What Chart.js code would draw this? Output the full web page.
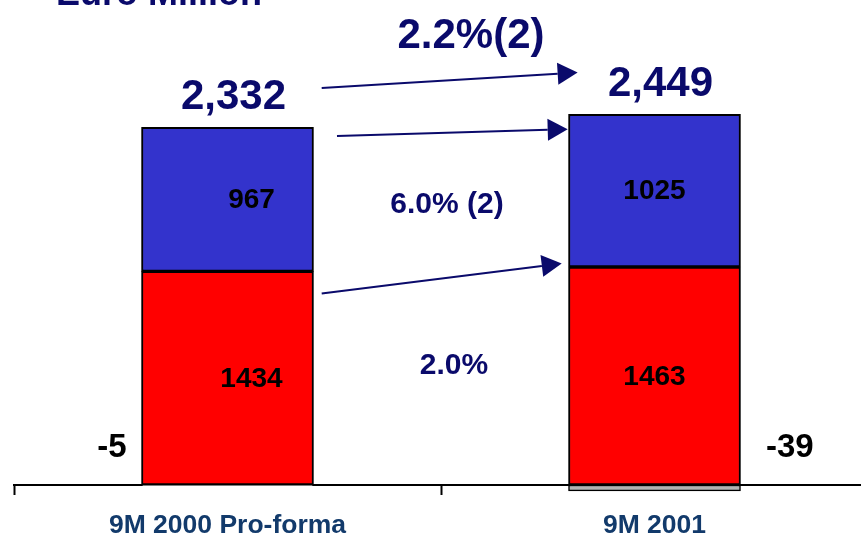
<!DOCTYPE html>
<html>
<head>
<meta charset="utf-8">
<title>Euro Million</title>
<script src="https://cdn.jsdelivr.net/npm/chart.js@4.4.1/dist/chart.umd.min.js"></script>
<style>
  html, body { margin: 0; padding: 0; background: #fff; }
</style>
</head>
<body>
<canvas id="chart" width="861" height="540"></canvas>
<script>
const PERIODS = ['9M 2000 Pro-forma', '9M 2001'];
const PERIOD_POS = [0, 1];
const RED_VALUES = [1434, 1463];
const BLUE_VALUES = [967, 1025];
const OTHER_VALUES = [-5, -39];
const TOTAL_LABELS = ['2,332', '2,449'];
const GROWTH_LABELS = ['2.2%(2)', '6.0% (2)', '2.0%'];

const NAVY = '#0a0a6b';
const FONT = '"Liberation Sans", Arial, sans-serif';

// growth arrows and notes, placed in axis units (x = period, y = euro million)
const ARROWS = [
  { from: [0.2206, 2665], to: [0.820, 2768] },
  { from: [0.2564, 2343], to: [0.7967, 2388] },
  { from: [0.2206, 1286], to: [0.7827, 1487] }
];
const GROWTH_POS = [
  { x: 0.5703, y: 3011, size: 42 },
  { x: 0.514, y: 1878, size: 30 },
  { x: 0.5305, y: 798, size: 30 }
];
const OTHER_POS = [
  { x: -0.2705, y: 248 },
  { x: 1.317, y: 248 }
];
const INNER_SHIFT = [24, 0];

function points(values) {
  return PERIOD_POS.map((x, i) => ({ x: x, y: values[i] }));
}

const annotations = {
  id: 'annotations',
  afterDraw(chart) {
    const ctx = chart.ctx;
    const xs = chart.scales.x;
    const ys = chart.scales.y;
    ctx.save();

    // title, mostly above the top edge
    ctx.fillStyle = NAVY;
    ctx.font = 'bold 36px ' + FONT;
    ctx.textAlign = 'left';
    ctx.textBaseline = 'alphabetic';
    ctx.fillText('Euro Million', 56, 5);
    ctx.textAlign = 'center';
    ctx.textBaseline = 'middle';

    // segment values inside the red and blue bars
    ctx.fillStyle = '#000';
    ctx.font = 'bold 28px ' + FONT;
    [0, 1].forEach(d => {
      const meta = chart.getDatasetMeta(d);
      meta.data.forEach((bar, i) => {
        const v = chart.data.datasets[d].data[i].y;
        ctx.fillText(String(v), bar.x + INNER_SHIFT[i], (bar.y + bar.base) / 2 + 1);
      });
    });

    // negative remainder
    ctx.font = 'bold 33px ' + FONT;
    OTHER_VALUES.forEach((v, i) => {
      ctx.fillText(String(v), xs.getPixelForValue(OTHER_POS[i].x), ys.getPixelForValue(OTHER_POS[i].y));
    });

    // totals above each stack
    ctx.fillStyle = NAVY;
    ctx.font = 'bold 42px ' + FONT;
    chart.getDatasetMeta(1).data.forEach((bar, i) => {
      ctx.fillText(TOTAL_LABELS[i], bar.x + 6, bar.y - 30);
    });

    // growth notes
    GROWTH_LABELS.forEach((t, i) => {
      const p = GROWTH_POS[i];
      ctx.font = 'bold ' + p.size + 'px ' + FONT;
      ctx.fillText(t, xs.getPixelForValue(p.x), ys.getPixelForValue(p.y));
    });

    // arrows
    ctx.strokeStyle = NAVY;
    ctx.lineWidth = 2;
    ARROWS.forEach(a => {
      const x1 = xs.getPixelForValue(a.from[0]), y1 = ys.getPixelForValue(a.from[1]);
      const x2 = xs.getPixelForValue(a.to[0]), y2 = ys.getPixelForValue(a.to[1]);
      const ang = Math.atan2(y2 - y1, x2 - x1);
      const len = 20, half = 11;
      const bx = x2 - len * Math.cos(ang), by = y2 - len * Math.sin(ang);
      ctx.beginPath();
      ctx.moveTo(x1, y1);
      ctx.lineTo(bx, by);
      ctx.stroke();
      ctx.beginPath();
      ctx.moveTo(x2, y2);
      ctx.lineTo(bx + half * Math.sin(ang), by - half * Math.cos(ang));
      ctx.lineTo(bx - half * Math.sin(ang), by + half * Math.cos(ang));
      ctx.closePath();
      ctx.fill();
    });
    ctx.restore();
  }
};

new Chart(document.getElementById('chart'), {
  type: 'bar',
  data: {
    datasets: [
      { data: points(RED_VALUES), backgroundColor: '#ff0000' },
      { data: points(BLUE_VALUES), backgroundColor: '#3333cc' },
      { data: points(OTHER_VALUES), backgroundColor: '#b2b2b2', borderWidth: 1.5 }
    ]
  },
  options: {
    responsive: false,
    animation: false,
    clip: false,
    datasets: {
      bar: { barThickness: 172, borderColor: '#000', borderWidth: 2, borderSkipped: false }
    },
    layout: { padding: { left: 14, right: 0, top: 38, bottom: -17 } },
    plugins: { legend: { display: false }, tooltip: { enabled: false } },
    scales: {
      x: {
        type: 'linear',
        stacked: true,
        offset: false,
        bounds: 'data',
        min: -0.5,
        max: 1.4836,
        afterBuildTicks: axis => {
          axis.ticks = [-0.5, 0, 0.5, 1].map(v => ({ value: v }));
        },
        ticks: {
          autoSkip: false,
          maxRotation: 0,
          padding: 7,
          color: '#123a6b',
          font: { family: FONT, size: 26.5, weight: 'bold', lineHeight: '48px' },
          callback: v => {
            const i = PERIOD_POS.indexOf(v);
            return i >= 0 ? PERIODS[i] : '';
          }
        },
        grid: {
          offset: false,
          drawOnChartArea: false,
          tickLength: 10,
          tickWidth: 2,
          tickColor: c => (c.tick && Number.isInteger(c.tick.value)) ? 'rgba(0,0,0,0)' : '#000'
        },
        border: { color: '#000', width: 2 }
      },
      y: { stacked: true, display: false, min: 0, max: 3000 }
    }
  },
  plugins: [annotations]
});
</script>
</body>
</html>
